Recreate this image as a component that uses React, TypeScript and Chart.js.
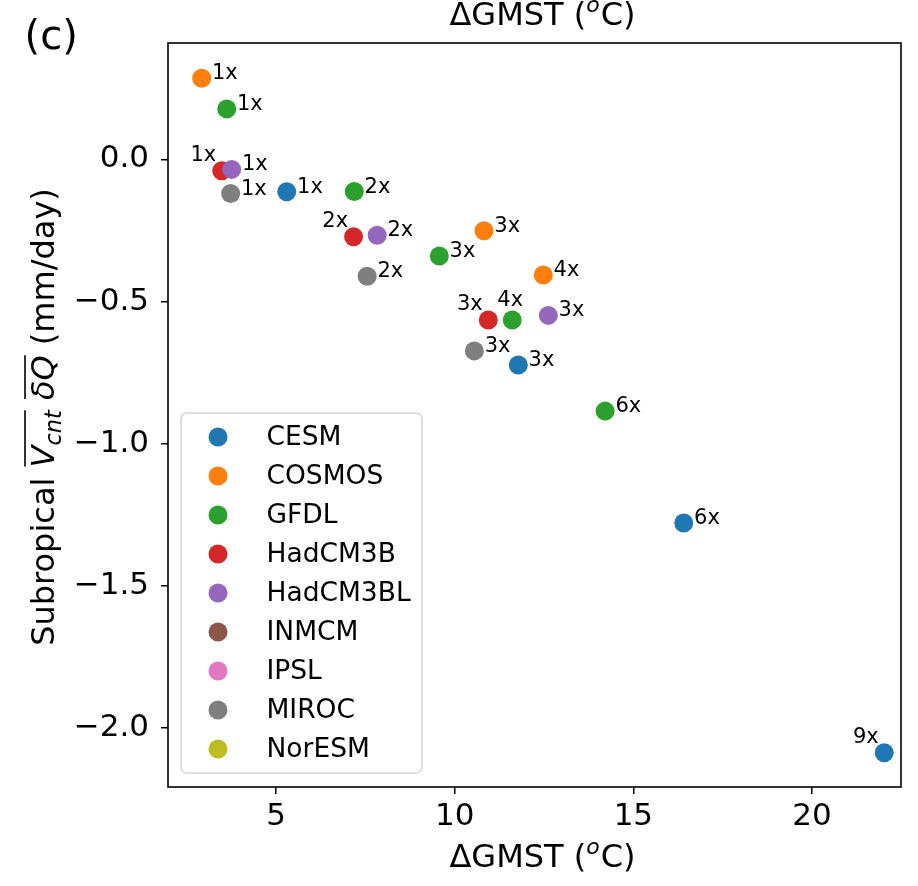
import React, { useEffect, useRef } from "react";
import { Chart, registerables } from "chart.js";

Chart.register(...registerables);

// ---------- data ----------
const models = ["CESM", "COSMOS", "GFDL", "HadCM3B", "HadCM3BL", "INMCM", "IPSL", "MIROC", "NorESM"];
const modelColors = ["#1f77b4", "#ff7f0e", "#2ca02c", "#d62728", "#9467bd", "#8c564b", "#e377c2", "#7f7f7f", "#bcbd22"];

const cesmX = [5.30, 11.78, 16.41, 22.02];
const cesmY = [-0.114, -0.724, -1.280, -2.089];
const cesmLabels = ["1x", "3x", "6x", "9x"];

const cosmosX = [2.92, 10.82, 12.48];
const cosmosY = [0.286, -0.251, -0.407];
const cosmosLabels = ["1x", "3x", "4x"];

const gfdlX = [3.62, 7.19, 9.57, 11.61, 14.21];
const gfdlY = [0.178, -0.113, -0.340, -0.565, -0.886];
const gfdlLabels = ["1x", "2x", "3x", "4x", "6x"];

const hadcm3bX = [3.48, 7.17, 10.94];
const hadcm3bY = [-0.040, -0.272, -0.565];
const hadcm3bLabels = ["1x", "2x", "3x"];

const hadcm3blX = [3.76, 7.83, 12.62];
const hadcm3blY = [-0.035, -0.267, -0.549];
const hadcm3blLabels = ["1x", "2x", "3x"];

const inmcmX: number[] = [];
const inmcmY: number[] = [];
const inmcmLabels: string[] = [];

const ipslX: number[] = [];
const ipslY: number[] = [];
const ipslLabels: string[] = [];

const mirocX = [3.73, 7.55, 10.55];
const mirocY = [-0.120, -0.411, -0.674];
const mirocLabels = ["1x", "2x", "3x"];

const noresmX: number[] = [];
const noresmY: number[] = [];
const noresmLabels: string[] = [];

const xTicks = [5, 10, 15, 20];
const yTicks = [0.0, -0.5, -1.0, -1.5, -2.0];
const xRange = [1.977, 22.49];
const yRange = [-2.2095, 0.410];

const seriesX = [cesmX, cosmosX, gfdlX, hadcm3bX, hadcm3blX, inmcmX, ipslX, mirocX, noresmX];
const seriesY = [cesmY, cosmosY, gfdlY, hadcm3bY, hadcm3blY, inmcmY, ipslY, mirocY, noresmY];
const seriesLabels = [cesmLabels, cosmosLabels, gfdlLabels, hadcm3bLabels, hadcm3blLabels, inmcmLabels, ipslLabels, mirocLabels, noresmLabels];

// label placement (style): default is right of the point
const labelPlacement: Record<string, string> = {
  "HadCM3B:1x": "ul",
  "HadCM3B:2x": "ul",
  "HadCM3B:3x": "ul",
  "CESM:9x": "ul",
  "GFDL:4x": "u",
};

const FONT = "'DejaVu Sans', sans-serif";
const minus = (v: number) => (v < 0 ? "\u2212" : "") + Math.abs(v).toFixed(1);

const decorPlugin = {
  id: "decor",
  afterDatasetsDraw(chart: any) {
    const ctx = chart.ctx;
    ctx.save();
    ctx.fillStyle = "#000";
    ctx.font = `21px ${FONT}`;
    ctx.textBaseline = "alphabetic";
    chart.data.datasets.forEach((ds: any, i: number) => {
      const meta = chart.getDatasetMeta(i);
      meta.data.forEach((el: any, j: number) => {
        const lab = ds.pointLabels[j];
        const key = `${ds.label}:${lab}`;
        const p = labelPlacement[key] || "r";
        if (p === "r") {
          ctx.textAlign = "left";
          ctx.fillText(lab, el.x + 10.3, el.y + 1);
        } else if (p === "ul") {
          ctx.textAlign = "right";
          ctx.fillText(lab, el.x - 5.5, el.y - 10);
        } else {
          ctx.textAlign = "center";
          ctx.fillText(lab, el.x - 2, el.y - 14);
        }
      });
    });
    ctx.restore();
  },
  afterDraw(chart: any) {
    const ctx = chart.ctx;
    const a = chart.chartArea;
    ctx.save();
    // frame
    ctx.strokeStyle = "#000";
    ctx.lineWidth = 1.6;
    ctx.strokeRect(a.left, a.top, a.right - a.left, a.bottom - a.top);

    // legend
    const lx = a.left + 13, ly = a.top + 370, lw = 241, lh = 360, r = 6;
    ctx.beginPath();
    ctx.moveTo(lx + r, ly);
    ctx.arcTo(lx + lw, ly, lx + lw, ly + lh, r);
    ctx.arcTo(lx + lw, ly + lh, lx, ly + lh, r);
    ctx.arcTo(lx, ly + lh, lx, ly, r);
    ctx.arcTo(lx, ly, lx + lw, ly, r);
    ctx.closePath();
    ctx.fillStyle = "rgba(255,255,255,0.8)";
    ctx.fill();
    ctx.strokeStyle = "#d6d6d6";
    ctx.lineWidth = 1.6;
    ctx.stroke();
    ctx.font = `26.5px ${FONT}`;
    ctx.textAlign = "left";
    ctx.textBaseline = "alphabetic";
    models.forEach((m, i) => {
      const cy = ly + 24 + i * 39;
      ctx.beginPath();
      ctx.arc(lx + 37, cy, 9.5, 0, Math.PI * 2);
      ctx.fillStyle = modelColors[i];
      ctx.fill();
      ctx.fillStyle = "#000";
      ctx.fillText(m, lx + 85.5, cy + 8);
    });

    // x-axis titles (top, cropped, and bottom)
    const drawXTitle = (cx: number, base: number) => {
      const p1 = "\u0394GMST (";
      const p3 = "C)";
      ctx.font = `32px ${FONT}`;
      const w1 = ctx.measureText(p1).width;
      const w3 = ctx.measureText(p3).width;
      ctx.font = `italic 22px ${FONT}`;
      const w2 = ctx.measureText("o").width + 1;
      const total = w1 + w2 + w3;
      let x = cx - total / 2;
      ctx.fillStyle = "#000";
      ctx.textAlign = "left";
      ctx.font = `32px ${FONT}`;
      ctx.fillText(p1, x, base);
      x += w1;
      ctx.font = `italic 22px ${FONT}`;
      ctx.fillText("o", x, base - 13);
      x += w2;
      ctx.font = `32px ${FONT}`;
      ctx.fillText(p3, x, base);
    };
    const cx = (a.left + a.right) / 2 + 8;
    drawXTitle(cx, 25);
    drawXTitle(cx, 867);

    // y-axis title
    ctx.save();
    ctx.translate(54, (a.top + a.bottom) / 2 + 2);
    ctx.rotate(-Math.PI / 2);
    const parts: { t: string; f: string; dy?: number; ol?: number }[] = [
      { t: "Subropical ", f: `32px ${FONT}` },
      { t: "V", f: `italic 32px ${FONT}`, ol: 1 },
      { t: "cnt", f: `italic 22.4px ${FONT}`, dy: 6.5, ol: 1 },
      { t: " ", f: `32px ${FONT}` },
      { t: "\u03b4Q", f: `italic 32px ${FONT}`, ol: 2 },
      { t: " (mm/day)", f: `32px ${FONT}` },
    ];
    let tw = 0;
    const widths = parts.map((p) => {
      ctx.font = p.f;
      const w = ctx.measureText(p.t).width;
      tw += w;
      return w;
    });
    let x = -tw / 2;
    const olRanges: Record<number, [number, number]> = {};
    parts.forEach((p, i) => {
      ctx.font = p.f;
      ctx.fillStyle = "#000";
      ctx.textAlign = "left";
      ctx.fillText(p.t, x, p.dy || 0);
      if (p.ol) {
        const rr = olRanges[p.ol];
        olRanges[p.ol] = rr ? [rr[0], x + widths[i]] : [x, x + widths[i]];
      }
      x += widths[i];
    });
    ctx.strokeStyle = "#000";
    ctx.lineWidth = 1.6;
    Object.values(olRanges).forEach(([s, e]) => {
      ctx.beginPath();
      ctx.moveTo(s + 1, -29);
      ctx.lineTo(e, -29);
      ctx.stroke();
    });
    ctx.restore();

    // panel letter
    ctx.font = `40px ${FONT}`;
    ctx.fillStyle = "#000";
    ctx.textAlign = "left";
    ctx.fillText("(c)", 24.6, 48.5);
    ctx.restore();
  },
};

export default function App() {
  const ref = useRef<HTMLCanvasElement | null>(null);
  useEffect(() => {
    document.body.style.margin = "0";
    if (!ref.current) return;
    const datasets = models.map((m, i) => ({
      label: m,
      data: seriesX[i].map((x, j) => ({ x, y: seriesY[i][j] })),
      pointLabels: seriesLabels[i],
      backgroundColor: modelColors[i],
      borderColor: modelColors[i],
      pointRadius: 9.5,
      pointBorderWidth: 0,
      pointHoverRadius: 9.5,
      showLine: false,
      order: -i,
    }));
    const chart = new Chart(ref.current, {
      type: "scatter",
      data: { datasets } as any,
      options: {
        animation: false,
        responsive: false,
        devicePixelRatio: 1,
        layout: { padding: { top: 43, right: 17, bottom: 0, left: 0 } },
        plugins: { legend: { display: false }, tooltip: { enabled: false } },
        scales: {
          x: {
            type: "linear",
            min: xRange[0],
            max: xRange[1],
            afterBuildTicks: (s: any) => {
              s.ticks = xTicks.map((v) => ({ value: v }));
            },
            afterFit: (s: any) => {
              s.height = 99;
            },
            ticks: {
              color: "#000",
              font: { family: FONT, size: 31 },
              padding: 4,
              maxRotation: 0,
              autoSkip: false,
              callback: (v: any) => String(v),
            },
            grid: { display: true, drawOnChartArea: false, drawTicks: true, tickLength: 7, color: "#000", lineWidth: 1.5 },
            border: { display: false },
          },
          y: {
            type: "linear",
            min: yRange[0],
            max: yRange[1],
            afterBuildTicks: (s: any) => {
              s.ticks = yTicks.map((v) => ({ value: v }));
            },
            afterFit: (s: any) => {
              s.width = 168;
            },
            ticks: {
              color: "#000",
              font: { family: FONT, size: 31 },
              padding: 12,
              autoSkip: false,
              callback: (v: any) => minus(Number(v)),
            },
            grid: { display: true, drawOnChartArea: false, drawTicks: true, tickLength: 7, color: "#000", lineWidth: 1.5 },
            border: { display: false },
          },
        },
      },
      plugins: [decorPlugin],
    } as any);
    return () => chart.destroy();
  }, []);
  return <canvas ref={ref} width={918} height={886} style={{ display: "block" }} />;
}
